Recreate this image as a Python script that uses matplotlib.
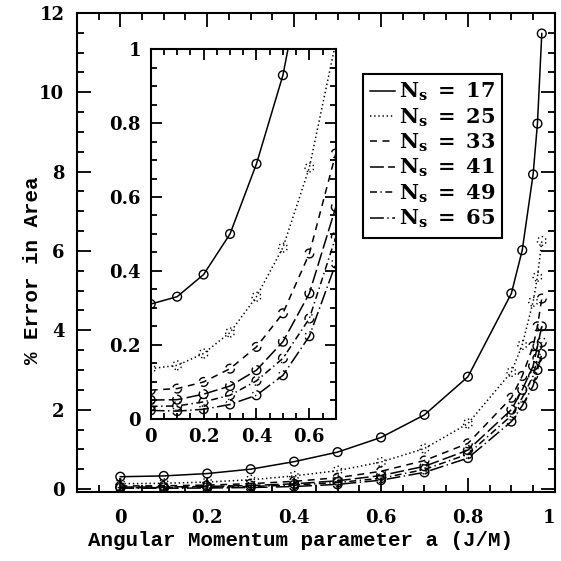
import matplotlib
matplotlib.use("Agg")
import matplotlib.pyplot as plt
from matplotlib.ticker import MultipleLocator

plt.rcParams['lines.scale_dashes'] = False
plt.rcParams['mathtext.fontset'] = 'dejavuserif'

# spin parameter values
a = [0, 0.1, 0.2, 0.3, 0.4, 0.5, 0.6, 0.7, 0.8, 0.9, 0.925, 0.95, 0.96, 0.97]

# % error in area for each resolution
err17 = [0.31, 0.33, 0.39, 0.50, 0.69, 0.93, 1.30, 1.87, 2.83, 4.93, 6.02, 7.93, 9.21, 11.48]
err25 = [0.135, 0.144, 0.176, 0.233, 0.33, 0.463, 0.68, 1.02, 1.65, 2.95, 3.63, 4.72, 5.35, 6.25]
err33 = [0.077, 0.081, 0.099, 0.135, 0.194, 0.285, 0.447, 0.718, 1.15, 2.3, 2.85, 3.6, 4.1, 4.8]
err41 = [0.05, 0.051, 0.066, 0.088, 0.131, 0.208, 0.339, 0.573, 0.98, 2.0, 2.5, 3.1, 3.6, 4.1]
err49 = [0.033, 0.034, 0.045, 0.063, 0.102, 0.163, 0.271, 0.492, 0.88, 1.85, 2.3, 2.85, 3.3, 3.7]
err65 = [0.022, 0.02, 0.025, 0.038, 0.063, 0.117, 0.223, 0.42, 0.78, 1.7, 2.1, 2.6, 3.0, 3.4]

Ns = [17, 25, 33, 41, 49, 65]
errs = [err17, err25, err33, err41, err49, err65]
styles = ['-', (0, (1, 2)), (0, (5, 4)), (0, (10, 3)),
          (0, (5, 2.5, 1, 2.5)), (0, (10, 2.5, 1, 2.5))]

tick_font = dict(family='DejaVu Serif', weight='bold', size=13)
label_font = dict(family='Liberation Mono', weight='bold', size=15)

fig = plt.figure(figsize=(5.61, 5.61), dpi=100)
ax = fig.add_axes([0.137, 0.123, 0.852, 0.854])
ins = fig.add_axes([0.2686, 0.254, 0.330, 0.658])

for n, e, ls in zip(Ns, errs, styles):
    ax.plot(a, e, color='k', lw=1.1, linestyle=ls,
            label=r'$\mathbf{N_s\ =\ %d}$' % n)
    ax.scatter(a, e, s=40, facecolors='none', edgecolors='k',
               linewidths=1.0, linestyles=ls, zorder=3)
    ins.plot(a, e, color='k', lw=1.1, linestyle=ls)
    ins.scatter(a, e, s=40, facecolors='none', edgecolors='k',
                linewidths=1.0, linestyles=ls, zorder=3)

ax.set_xlim(-0.1, 1.0)
ax.set_ylim(-0.075, 12.0)
ax.xaxis.set_minor_locator(MultipleLocator(0.05))
ax.yaxis.set_minor_locator(MultipleLocator(0.5))
ax.set_xticks([0, 0.2, 0.4, 0.6, 0.8, 1.0])
ax.set_xticklabels(['0', '0.2', '0.4', '0.6', '0.8', '1'], fontdict=tick_font)
ax.set_yticks([0, 2, 4, 6, 8, 10, 12])
ax.set_yticklabels(['0', '2', '4', '6', '8', '10', '12'], fontdict=tick_font)

ins.set_xlim(0, 0.7)
ins.set_ylim(0, 1)
ins.xaxis.set_minor_locator(MultipleLocator(0.05))
ins.yaxis.set_minor_locator(MultipleLocator(0.05))
ins.set_xticks([0, 0.2, 0.4, 0.6])
ins.set_xticklabels(['0', '0.2', '0.4', '0.6'], fontdict=tick_font)
ins.set_yticks([0, 0.2, 0.4, 0.6, 0.8, 1.0])
ins.set_yticklabels(['0', '0.2', '0.4', '0.6', '0.8', '1'], fontdict=tick_font)

for axis in (ax, ins):
    axis.tick_params(which='both', direction='in', top=True, right=True, width=1.3)
    axis.tick_params(which='major', length=10, pad=9)
    axis.tick_params(which='minor', length=5)
    for sp in axis.spines.values():
        sp.set_linewidth(1.5)
ax.tick_params(axis='x', which='major', pad=12)
ins.tick_params(which='major', length=8, pad=7)
ins.tick_params(which='minor', length=4)

# keep the "1" label inside the picture
ax.get_xticklabels()[-1].set_horizontalalignment('right')

leg = ax.legend(loc='upper left', bbox_to_anchor=(0.599, 0.8735), borderaxespad=0,
                fancybox=False, edgecolor='k', framealpha=1, fontsize=15,
                handlelength=1.2, handletextpad=0.15, labelspacing=0.15,
                borderpad=0.35)
leg.get_frame().set_linewidth(1.5)

fig.text(0.5365, 0.0357, 'Angular Momentum parameter a (J/M)', ha='center', va='center',
         **label_font)
fig.text(33 / 561, 1 - 270 / 561, '% Error in Area', rotation=90, ha='center', va='center',
         **label_font)

fig.savefig('out.png', dpi=100)
